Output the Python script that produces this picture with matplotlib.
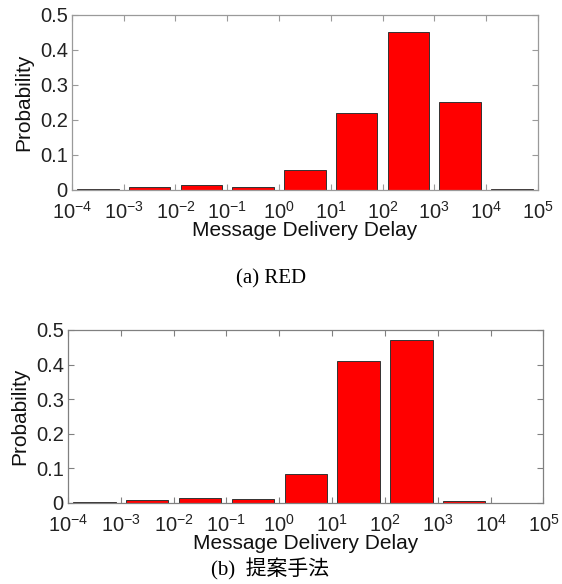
import numpy as np
import matplotlib
matplotlib.use("Agg")
import matplotlib.pyplot as plt

plt.rcParams["font.family"] = ["Liberation Sans", "DejaVu Sans"]
plt.rcParams["mathtext.fontset"] = "custom"
plt.rcParams["mathtext.rm"] = "Liberation Sans"
plt.rcParams["mathtext.it"] = "Liberation Sans:italic"
plt.rcParams["mathtext.bf"] = "Liberation Sans:bold"

# decade bins: 10^k .. 10^(k+1)
bin_exp = [-4, -3, -2, -1, 0, 1, 2, 3, 4]
prob_red = [0.001, 0.007, 0.015, 0.008, 0.057, 0.22, 0.45, 0.25, 0.001]
prob_proposed = [0.001, 0.008, 0.015, 0.010, 0.083, 0.41, 0.47, 0.004, np.nan]
tick_exp = [-4, -3, -2, -1, 0, 1, 2, 3, 4, 5]
y_ticks = [0, 0.1, 0.2, 0.3, 0.4, 0.5]
captions = ["(a) RED", "(b)  提案手法"]


def draw_panel(ax, probs, spine_color):
    for k, p in zip(bin_exp, probs):
        if np.isnan(p):
            continue
        left = 10.0 ** (k + 0.1)
        right = 10.0 ** (k + 0.9)
        ax.bar(left, p, width=right - left, align="edge", color="#ff0000",
               edgecolor="#333333", linewidth=0.7)
    ax.set_xscale("log")
    ax.set_xlim(10.0 ** tick_exp[0], 10.0 ** tick_exp[-1])
    ax.set_ylim(0, 0.5)
    ax.set_xticks([10.0 ** e for e in tick_exp])
    ax.set_xticklabels([r"$10^{%d}$" % e for e in tick_exp])
    ax.xaxis.set_minor_locator(matplotlib.ticker.NullLocator())
    ax.set_yticks(y_ticks)
    ax.set_yticklabels(["0", "0.1", "0.2", "0.3", "0.4", "0.5"])
    ax.tick_params(direction="in", length=4, width=0.8, top=True, right=True,
                   labelsize=14.5, colors=spine_color, labelcolor="#222222")
    ax.tick_params(axis="x", pad=8)
    ax.tick_params(axis="y", pad=3)
    for s in ax.spines.values():
        s.set_color(spine_color)
        s.set_linewidth(0.9)
    ax.set_xlabel("Message Delivery Delay", fontsize=15, color="#111111", labelpad=-1)
    ax.set_ylabel("Probability", fontsize=15, color="#111111", labelpad=5)


fig = plt.figure(figsize=(5.62, 5.84), dpi=100)
ax1 = fig.add_axes([0.128, 0.675, 0.829, 0.300])
ax2 = fig.add_axes([0.121, 0.139, 0.846, 0.296])

draw_panel(ax1, prob_red, "#9a9a9a")
draw_panel(ax2, prob_proposed, "#808080")

fig.text(0.482, 1 - 279 / 584, captions[0], ha="center", va="center", fontsize=15,
         family=["Liberation Serif", "Noto Sans CJK JP"])
fig.text(0.48, 1 - 569 / 584, captions[1], ha="center", va="center", fontsize=15,
         family=["Liberation Serif", "Noto Sans CJK JP"])

fig.savefig("out.png", dpi=100, facecolor="white")
